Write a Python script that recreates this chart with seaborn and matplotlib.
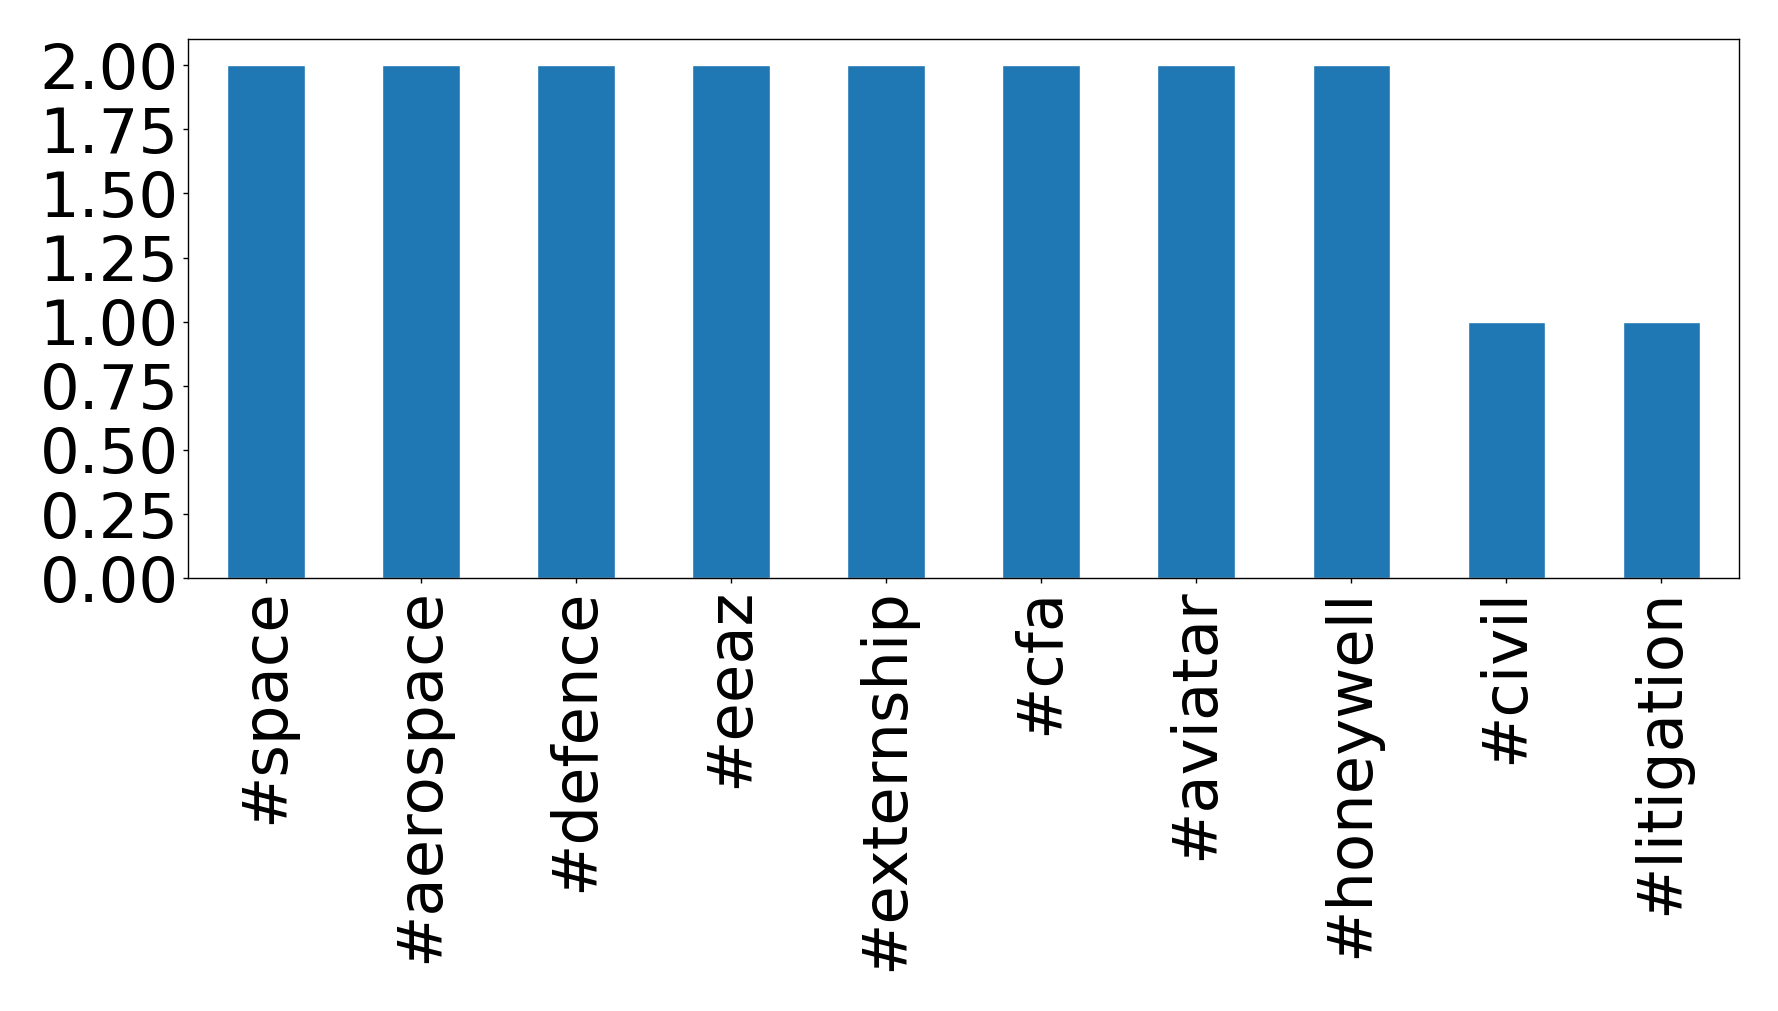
import numpy as np
import pandas as pd
import seaborn as sns
import matplotlib.pyplot as plt


hashtags = ['#space', '#aerospace', '#defence', '#eeaz', '#externship',
            '#cfa', '#aviatar', '#honeywell', '#civil', '#litigation']
counts = [2, 2, 2, 2, 2, 2, 2, 2, 1, 1]

df = pd.DataFrame({'tag': hashtags, 'count': counts})

sns.set_style("white")

fig, ax = plt.subplots(figsize=(17.78, 10.11), dpi=100)
sns.barplot(data=df, x='tag', y='count', color='#1f77b4', saturation=1,
            width=0.5, ax=ax)

ax.set_xlim(-0.5, len(hashtags) - 0.5)
ax.set_ylim(0, 2.1)
ax.set_yticks(np.arange(0, 2.01, 0.25))
ax.set_yticklabels([f'{v:.2f}' for v in np.arange(0, 2.01, 0.25)])
ax.set_xlabel('')
ax.set_ylabel('')
ax.tick_params(axis='both', labelsize=45, length=3.5, width=1, bottom=True, left=True,
               colors='black', labelcolor='black')
plt.setp(ax.get_xticklabels(), rotation=90)
for s in ax.spines.values():
    s.set_color('black')
    s.set_linewidth(1)

fig.subplots_adjust(left=0.106, right=0.978, top=0.961, bottom=0.428)
fig.savefig('out.png', dpi=100)
